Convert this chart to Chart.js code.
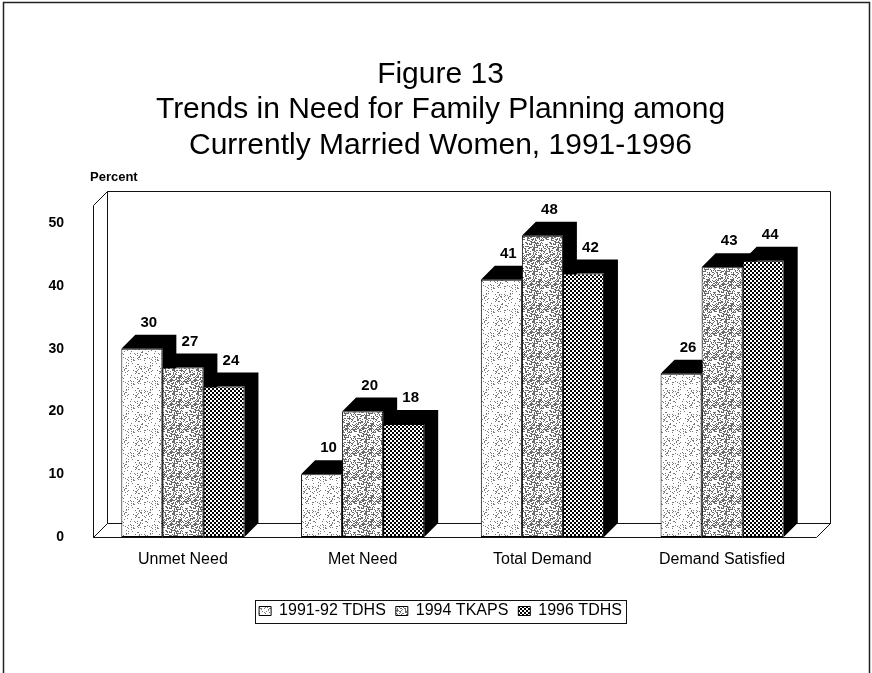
<!DOCTYPE html>
<html>
<head>
<meta charset="utf-8">
<title>Figure 13</title>
<script src="https://cdn.jsdelivr.net/npm/chart.js@4.4.1/dist/chart.umd.min.js"></script>
<style>
  body { margin: 0; background: #fff; }
  canvas { display: block; }
</style>
</head>
<body>
<canvas id="chart" width="872" height="673"></canvas>
<script>
// data
const categories = ['Unmet Need', 'Met Need', 'Total Demand', 'Demand Satisfied'];
const seriesNames = ['1991-92 TDHS', '1994 TKAPS', '1996 TDHS'];
const tdhs1991 = [30, 10, 41, 26];
const tkaps1994 = [27, 20, 48, 43];
const tdhs1996 = [24, 18, 42, 44];
const yTicks = [0, 10, 20, 30, 40, 50];
const yMax = 52.9;

const FONT = "'Liberation Sans', Arial, Helvetica, sans-serif";
const DX = 14, DY = 14; // depth of the 3d effect

// small integer hash, used to scatter the stipple dots in a tile
function hash(x, y) {
  let h = Math.imul(x, 374761393) + Math.imul(y, 668265263);
  h = Math.imul(h ^ (h >>> 13), 1274126177);
  return ((h ^ (h >>> 16)) >>> 0) / 4294967295;
}

function stipple(density, color, size) {
  const c = document.createElement('canvas');
  c.width = size; c.height = size;
  const g = c.getContext('2d');
  g.fillStyle = '#fff';
  g.fillRect(0, 0, size, size);
  g.fillStyle = color;
  for (let y = 0; y < size; y++) {
    for (let x = 0; x < size; x++) {
      if (hash(x + 3, y + 7) < density) g.fillRect(x, y, 1, 1);
    }
  }
  return g.createPattern(c, 'repeat');
}

function checker() {
  const c = document.createElement('canvas');
  c.width = 4; c.height = 4;
  const g = c.getContext('2d');
  g.fillStyle = '#fff';
  g.fillRect(0, 0, 4, 4);
  g.fillStyle = '#000';
  g.fillRect(0, 0, 2, 2);
  g.fillRect(2, 2, 2, 2);
  return g.createPattern(c, 'repeat');
}

const fills = [stipple(0.14, '#7a7a7a', 24), stipple(0.36, '#6a6a6a', 24), checker()];

// walls, floor and the black top/side faces behind each bar
const box3d = {
  id: 'box3d',
  beforeDatasetsDraw(chart) {
    const { ctx, chartArea: a } = chart;
    const L = a.left + 0.5, T = a.top + 0.5, B = a.bottom + 0.5, R = a.right + 4.5;
    ctx.save();
    ctx.strokeStyle = '#111';
    ctx.lineWidth = 1;
    ctx.fillStyle = '#fff';
    // back wall
    ctx.beginPath();
    ctx.rect(L + DX, T - DY, R - L, B - T);
    ctx.fill(); ctx.stroke();
    // left wall
    ctx.beginPath();
    ctx.moveTo(L, T); ctx.lineTo(L + DX, T - DY); ctx.lineTo(L + DX, B - DY); ctx.lineTo(L, B);
    ctx.closePath(); ctx.fill(); ctx.stroke();
    // floor
    ctx.beginPath();
    ctx.moveTo(L, B); ctx.lineTo(L + DX, B - DY); ctx.lineTo(R + DX, B - DY); ctx.lineTo(R, B);
    ctx.closePath(); ctx.fill(); ctx.stroke();

    ctx.fillStyle = '#000';
    chart.data.datasets.forEach((ds, i) => {
      chart.getDatasetMeta(i).data.forEach(el => {
        const { x, y, base, width } = el.getProps(['x', 'y', 'base', 'width'], true);
        const l = x - width / 2, r = x + width / 2;
        ctx.beginPath();
        ctx.moveTo(l, y); ctx.lineTo(l + DX, y - DY); ctx.lineTo(r + DX, y - DY);
        ctx.lineTo(r + DX, base - DY); ctx.lineTo(r, base); ctx.lineTo(r, y);
        ctx.closePath();
        ctx.fill();
      });
    });
    ctx.restore();
  },
  afterDatasetsDraw(chart) {
    const { ctx } = chart;
    ctx.save();
    ctx.fillStyle = '#000';
    ctx.font = 'bold 15px ' + FONT;
    ctx.textAlign = 'center';
    ctx.textBaseline = 'middle';
    chart.data.datasets.forEach((ds, i) => {
      chart.getDatasetMeta(i).data.forEach((el, j) => {
        const { x, y } = el.getProps(['x', 'y'], true);
        ctx.fillText(String(ds.data[j]), x + DX / 2, y - DY - 12);
      });
    });
    ctx.restore();
  },
  afterDraw(chart) {
    const { ctx, legend } = chart;
    ctx.save();
    // frame round the figure
    ctx.strokeStyle = '#222';
    ctx.lineWidth = 1.5;
    ctx.beginPath();
    ctx.moveTo(3.5, 673); ctx.lineTo(3.5, 2.5); ctx.lineTo(869.5, 2.5); ctx.lineTo(869.5, 673);
    ctx.stroke();
    // axis caption
    ctx.fillStyle = '#000';
    ctx.font = 'bold 13px ' + FONT;
    ctx.textAlign = 'left';
    ctx.textBaseline = 'middle';
    ctx.fillText('Percent', 90, 177);
    // box round the legend
    const hb = legend.legendHitBoxes;
    if (hb && hb.length) {
      const first = hb[0], last = hb[hb.length - 1];
      const x0 = Math.round(first.left) - 3.5, x1 = Math.round(last.left + last.width) + 4.5;
      const y0 = Math.round(first.top) - 2.5, y1 = Math.round(first.top + first.height) + 4.5;
      ctx.lineWidth = 1;
      ctx.strokeStyle = '#111';
      ctx.strokeRect(x0, y0, x1 - x0, y1 - y0);
    }
    ctx.restore();
  }
};

Chart.defaults.color = '#000';
Chart.defaults.font.family = FONT;

new Chart(document.getElementById('chart'), {
  type: 'bar',
  data: {
    labels: categories,
    datasets: [tdhs1991, tkaps1994, tdhs1996].map((values, i) => ({
      label: seriesNames[i],
      data: values,
      backgroundColor: fills[i],
      borderColor: '#000',
      borderWidth: 1,
      borderSkipped: false,
      barPercentage: 1,
      categoryPercentage: 0.685
    }))
  },
  options: {
    responsive: false,
    animation: false,
    events: [],
    layout: { padding: { left: 9, right: 0, top: 0, bottom: 44 } },
    plugins: {
      title: {
        display: true,
        text: ['Figure 13', 'Trends in Need for Family Planning among', 'Currently Married Women, 1991-1996'],
        font: { size: 30, weight: 'normal', lineHeight: 1.17 },
        color: '#000',
        padding: { top: 57.5, bottom: 42.2 }
      },
      legend: {
        position: 'bottom',
        labels: {
          boxWidth: 12,
          boxHeight: 9,
          padding: 10,
          font: { size: 16 },
          color: '#000'
        }
      },
      tooltip: { enabled: false }
    },
    scales: {
      x: {
        grid: { display: false, drawTicks: false },
        border: { display: false },
        ticks: { font: { size: 16 }, padding: 13, color: '#000' },
        afterFit(scale) { scale.height = 56; }
      },
      y: {
        min: 0,
        max: yMax,
        grid: { display: false, drawTicks: false },
        border: { display: false },
        ticks: { stepSize: 10, font: { size: 14, weight: 'bold' }, padding: 29, color: '#000' },
        afterBuildTicks(scale) { scale.ticks = yTicks.map(v => ({ value: v })); },
        afterFit(scale) { scale.width = 84; }
      },
      yRight: {
        position: 'right',
        grid: { display: false, drawTicks: false },
        border: { display: false },
        ticks: { display: false },
        afterFit(scale) { scale.width = 60; }
      }
    }
  },
  plugins: [box3d]
});
</script>
</body>
</html>
